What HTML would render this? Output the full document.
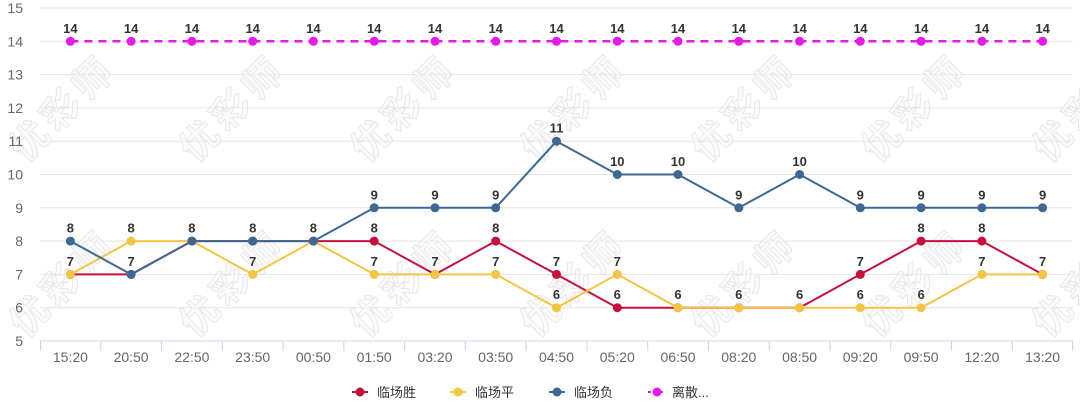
<!DOCTYPE html>
<html><head><meta charset="utf-8"><style>
html,body{margin:0;padding:0;background:#fff;}
svg{display:block;font-family:"Liberation Sans","Noto Sans CJK SC",sans-serif;}
.yl{font-size:14px;fill:#666;text-anchor:end;}
.xl{font-size:14px;fill:#666;text-anchor:middle;}
.dl{font-size:13px;font-weight:bold;fill:#333;text-anchor:middle;stroke:#fff;stroke-width:2px;paint-order:stroke;stroke-linejoin:round;}
.lg{font-size:13px;fill:#333;}
.wm{font-size:38px;font-weight:bold;fill:#f8f8f8;stroke:#d8d8d8;stroke-width:1px;letter-spacing:6px;text-anchor:middle;font-family:"Noto Sans CJK SC",sans-serif;}
</style></head><body>
<svg width="1080" height="404" viewBox="0 0 1080 404" xmlns="http://www.w3.org/2000/svg">
<rect width="1080" height="404" fill="#fff"/>
<!-- grid -->
<g stroke="#e6e6e6" stroke-width="1">
<line x1="40" y1="8" x2="1073" y2="8"/>
<line x1="40" y1="41.3" x2="1073" y2="41.3"/>
<line x1="40" y1="74.6" x2="1073" y2="74.6"/>
<line x1="40" y1="107.9" x2="1073" y2="107.9"/>
<line x1="40" y1="141.2" x2="1073" y2="141.2"/>
<line x1="40" y1="174.5" x2="1073" y2="174.5"/>
<line x1="40" y1="207.8" x2="1073" y2="207.8"/>
<line x1="40" y1="241.1" x2="1073" y2="241.1"/>
<line x1="40" y1="274.4" x2="1073" y2="274.4"/>
<line x1="40" y1="307.7" x2="1073" y2="307.7"/>
</g>
<!-- watermarks -->
<g class="wm" opacity="0.6">
<text transform="translate(63,108) rotate(-45)" y="13">优彩师</text>
<text transform="translate(233,108) rotate(-45)" y="13">优彩师</text>
<text transform="translate(404,108) rotate(-45)" y="13">优彩师</text>
<text transform="translate(574,108) rotate(-45)" y="13">优彩师</text>
<text transform="translate(745,108) rotate(-45)" y="13">优彩师</text>
<text transform="translate(915,108) rotate(-45)" y="13">优彩师</text>
<text transform="translate(1086,108) rotate(-45)" y="13">优彩师</text>
<text transform="translate(63,283) rotate(-45)" y="13">优彩师</text>
<text transform="translate(233,283) rotate(-45)" y="13">优彩师</text>
<text transform="translate(404,283) rotate(-45)" y="13">优彩师</text>
<text transform="translate(574,283) rotate(-45)" y="13">优彩师</text>
<text transform="translate(745,283) rotate(-45)" y="13">优彩师</text>
<text transform="translate(915,283) rotate(-45)" y="13">优彩师</text>
<text transform="translate(1086,283) rotate(-45)" y="13">优彩师</text>
</g>
<!-- axis -->
<line x1="40" y1="341" x2="1073" y2="341" stroke="#ccd6eb" stroke-width="1"/>
<g stroke="#ccd6eb" stroke-width="1">
<line x1="40.5" y1="341" x2="40.5" y2="351"/>
<line x1="100.8" y1="341" x2="100.8" y2="351"/>
<line x1="161.5" y1="341" x2="161.5" y2="351"/>
<line x1="222.3" y1="341" x2="222.3" y2="351"/>
<line x1="283.1" y1="341" x2="283.1" y2="351"/>
<line x1="343.8" y1="341" x2="343.8" y2="351"/>
<line x1="404.6" y1="341" x2="404.6" y2="351"/>
<line x1="465.4" y1="341" x2="465.4" y2="351"/>
<line x1="526.1" y1="341" x2="526.1" y2="351"/>
<line x1="586.9" y1="341" x2="586.9" y2="351"/>
<line x1="647.7" y1="341" x2="647.7" y2="351"/>
<line x1="708.4" y1="341" x2="708.4" y2="351"/>
<line x1="769.2" y1="341" x2="769.2" y2="351"/>
<line x1="830.0" y1="341" x2="830.0" y2="351"/>
<line x1="890.7" y1="341" x2="890.7" y2="351"/>
<line x1="951.5" y1="341" x2="951.5" y2="351"/>
<line x1="1012.3" y1="341" x2="1012.3" y2="351"/>
<line x1="1072.5" y1="341" x2="1072.5" y2="351"/>
</g>
<!-- y labels -->
<text class="yl" x="23" y="13">15</text>
<text class="yl" x="23" y="46.3">14</text>
<text class="yl" x="23" y="79.6">13</text>
<text class="yl" x="23" y="112.9">12</text>
<text class="yl" x="23" y="146.2">11</text>
<text class="yl" x="23" y="179.5">10</text>
<text class="yl" x="23" y="212.8">9</text>
<text class="yl" x="23" y="246.1">8</text>
<text class="yl" x="23" y="279.4">7</text>
<text class="yl" x="23" y="312.7">6</text>
<text class="yl" x="23" y="346">5</text>
<!-- x labels -->
<text class="xl" x="70.4" y="362">15:20</text>
<text class="xl" x="131.1" y="362">20:50</text>
<text class="xl" x="191.9" y="362">22:50</text>
<text class="xl" x="252.7" y="362">23:50</text>
<text class="xl" x="313.4" y="362">00:50</text>
<text class="xl" x="374.2" y="362">01:50</text>
<text class="xl" x="435.0" y="362">03:20</text>
<text class="xl" x="495.7" y="362">03:50</text>
<text class="xl" x="556.5" y="362">04:50</text>
<text class="xl" x="617.3" y="362">05:20</text>
<text class="xl" x="678.0" y="362">06:50</text>
<text class="xl" x="738.8" y="362">08:20</text>
<text class="xl" x="799.6" y="362">08:50</text>
<text class="xl" x="860.3" y="362">09:20</text>
<text class="xl" x="921.1" y="362">09:50</text>
<text class="xl" x="981.9" y="362">12:20</text>
<text class="xl" x="1042.6" y="362">13:20</text>

<!-- red series -->
<polyline fill="none" stroke="#c5103f" stroke-width="2" stroke-linejoin="round" points="70.4,274.4 131.1,274.4 191.9,241.1 252.7,241.1 313.4,241.1 374.2,241.1 435.0,274.4 495.7,241.1 556.5,274.4 617.3,307.7 678.0,307.7 738.8,307.7 799.6,307.7 860.3,274.4 921.1,241.1 981.9,241.1 1042.6,274.4"/>
<g fill="#c5103f">
<circle cx="70.4" cy="274.4" r="4.5"/><circle cx="131.1" cy="274.4" r="4.5"/><circle cx="191.9" cy="241.1" r="4.5"/><circle cx="252.7" cy="241.1" r="4.5"/><circle cx="313.4" cy="241.1" r="4.5"/><circle cx="374.2" cy="241.1" r="4.5"/><circle cx="435.0" cy="274.4" r="4.5"/><circle cx="495.7" cy="241.1" r="4.5"/><circle cx="556.5" cy="274.4" r="4.5"/><circle cx="617.3" cy="307.7" r="4.5"/><circle cx="678.0" cy="307.7" r="4.5"/><circle cx="738.8" cy="307.7" r="4.5"/><circle cx="799.6" cy="307.7" r="4.5"/><circle cx="860.3" cy="274.4" r="4.5"/><circle cx="921.1" cy="241.1" r="4.5"/><circle cx="981.9" cy="241.1" r="4.5"/><circle cx="1042.6" cy="274.4" r="4.5"/>
</g>
<!-- yellow series -->
<polyline fill="none" stroke="#f4c543" stroke-width="2" stroke-linejoin="round" points="70.4,274.4 131.1,241.1 191.9,241.1 252.7,274.4 313.4,241.1 374.2,274.4 435.0,274.4 495.7,274.4 556.5,307.7 617.3,274.4 678.0,307.7 738.8,307.7 799.6,307.7 860.3,307.7 921.1,307.7 981.9,274.4 1042.6,274.4"/>
<g fill="#f4c543">
<circle cx="70.4" cy="274.4" r="4.5"/><circle cx="131.1" cy="241.1" r="4.5"/><circle cx="191.9" cy="241.1" r="4.5"/><circle cx="252.7" cy="274.4" r="4.5"/><circle cx="313.4" cy="241.1" r="4.5"/><circle cx="374.2" cy="274.4" r="4.5"/><circle cx="435.0" cy="274.4" r="4.5"/><circle cx="495.7" cy="274.4" r="4.5"/><circle cx="556.5" cy="307.7" r="4.5"/><circle cx="617.3" cy="274.4" r="4.5"/><circle cx="678.0" cy="307.7" r="4.5"/><circle cx="738.8" cy="307.7" r="4.5"/><circle cx="799.6" cy="307.7" r="4.5"/><circle cx="860.3" cy="307.7" r="4.5"/><circle cx="921.1" cy="307.7" r="4.5"/><circle cx="981.9" cy="274.4" r="4.5"/><circle cx="1042.6" cy="274.4" r="4.5"/>
</g>
<!-- blue series -->
<polyline fill="none" stroke="#3d6894" stroke-width="2" stroke-linejoin="round" points="70.4,241.1 131.1,274.4 191.9,241.1 252.7,241.1 313.4,241.1 374.2,207.8 435.0,207.8 495.7,207.8 556.5,141.2 617.3,174.5 678.0,174.5 738.8,207.8 799.6,174.5 860.3,207.8 921.1,207.8 981.9,207.8 1042.6,207.8"/>
<g fill="#3d6894">
<circle cx="70.4" cy="241.1" r="4.5"/><circle cx="131.1" cy="274.4" r="4.5"/><circle cx="191.9" cy="241.1" r="4.5"/><circle cx="252.7" cy="241.1" r="4.5"/><circle cx="313.4" cy="241.1" r="4.5"/><circle cx="374.2" cy="207.8" r="4.5"/><circle cx="435.0" cy="207.8" r="4.5"/><circle cx="495.7" cy="207.8" r="4.5"/><circle cx="556.5" cy="141.2" r="4.5"/><circle cx="617.3" cy="174.5" r="4.5"/><circle cx="678.0" cy="174.5" r="4.5"/><circle cx="738.8" cy="207.8" r="4.5"/><circle cx="799.6" cy="174.5" r="4.5"/><circle cx="860.3" cy="207.8" r="4.5"/><circle cx="921.1" cy="207.8" r="4.5"/><circle cx="981.9" cy="207.8" r="4.5"/><circle cx="1042.6" cy="207.8" r="4.5"/>
</g>
<!-- magenta series -->
<line x1="70.4" y1="41.3" x2="1042.6" y2="41.3" stroke="#e619e6" stroke-width="2.5" stroke-dasharray="8,6"/>
<g fill="#e619e6">
<circle cx="70.4" cy="41.3" r="4.5"/><circle cx="131.1" cy="41.3" r="4.5"/><circle cx="191.9" cy="41.3" r="4.5"/><circle cx="252.7" cy="41.3" r="4.5"/><circle cx="313.4" cy="41.3" r="4.5"/><circle cx="374.2" cy="41.3" r="4.5"/><circle cx="435.0" cy="41.3" r="4.5"/><circle cx="495.7" cy="41.3" r="4.5"/><circle cx="556.5" cy="41.3" r="4.5"/><circle cx="617.3" cy="41.3" r="4.5"/><circle cx="678.0" cy="41.3" r="4.5"/><circle cx="738.8" cy="41.3" r="4.5"/><circle cx="799.6" cy="41.3" r="4.5"/><circle cx="860.3" cy="41.3" r="4.5"/><circle cx="921.1" cy="41.3" r="4.5"/><circle cx="981.9" cy="41.3" r="4.5"/><circle cx="1042.6" cy="41.3" r="4.5"/>
</g>

<!-- data labels -->
<g class="dl">
<text x="70.4" y="33">14</text><text x="131.1" y="33">14</text><text x="191.9" y="33">14</text><text x="252.7" y="33">14</text><text x="313.4" y="33">14</text><text x="374.2" y="33">14</text><text x="435.0" y="33">14</text><text x="495.7" y="33">14</text><text x="556.5" y="33">14</text><text x="617.3" y="33">14</text><text x="678.0" y="33">14</text><text x="738.8" y="33">14</text><text x="799.6" y="33">14</text><text x="860.3" y="33">14</text><text x="921.1" y="33">14</text><text x="981.9" y="33">14</text><text x="1042.6" y="33">14</text>

<text x="70.4" y="232.6">8</text><text x="70.4" y="265.9">7</text>
<text x="131.1" y="232.6">8</text><text x="131.1" y="265.9">7</text>
<text x="191.9" y="232.6">8</text>
<text x="252.7" y="232.6">8</text><text x="252.7" y="265.9">7</text>
<text x="313.4" y="232.6">8</text>
<text x="374.2" y="199.3">9</text><text x="374.2" y="232.6">8</text><text x="374.2" y="265.9">7</text>
<text x="435.0" y="199.3">9</text><text x="435.0" y="265.9">7</text>
<text x="495.7" y="199.3">9</text><text x="495.7" y="232.6">8</text><text x="495.7" y="265.9">7</text>
<text x="556.5" y="132.7">11</text><text x="556.5" y="265.9">7</text><text x="556.5" y="299.2">6</text>
<text x="617.3" y="166">10</text><text x="617.3" y="265.9">7</text><text x="617.3" y="299.2">6</text>
<text x="678.0" y="166">10</text><text x="678.0" y="299.2">6</text>
<text x="738.8" y="199.3">9</text><text x="738.8" y="299.2">6</text>
<text x="799.6" y="166">10</text><text x="799.6" y="299.2">6</text>
<text x="860.3" y="199.3">9</text><text x="860.3" y="265.9">7</text><text x="860.3" y="299.2">6</text>
<text x="921.1" y="199.3">9</text><text x="921.1" y="232.6">8</text><text x="921.1" y="299.2">6</text>
<text x="981.9" y="199.3">9</text><text x="981.9" y="232.6">8</text><text x="981.9" y="265.9">7</text>
<text x="1042.6" y="199.3">9</text><text x="1042.6" y="265.9">7</text>
</g>

<!-- legend -->
<g>
<line x1="352" y1="392" x2="368" y2="392" stroke="#c5103f" stroke-width="2"/>
<circle cx="360" cy="392" r="4.5" fill="#c5103f"/>
<text class="lg" x="377" y="397">临场胜</text>
<line x1="450" y1="392" x2="466" y2="392" stroke="#f4c543" stroke-width="2"/>
<circle cx="458" cy="392" r="4.5" fill="#f4c543"/>
<text class="lg" x="475" y="397">临场平</text>
<line x1="549" y1="392" x2="565" y2="392" stroke="#3d6894" stroke-width="2"/>
<circle cx="557" cy="392" r="4.5" fill="#3d6894"/>
<text class="lg" x="574" y="397">临场负</text>
<line x1="648" y1="392" x2="665" y2="392" stroke="#e619e6" stroke-width="2" stroke-dasharray="3,3"/>
<circle cx="657" cy="392" r="4.5" fill="#e619e6"/>
<text class="lg" x="672" y="397">离散...</text>
</g>
</svg>
</body></html>
